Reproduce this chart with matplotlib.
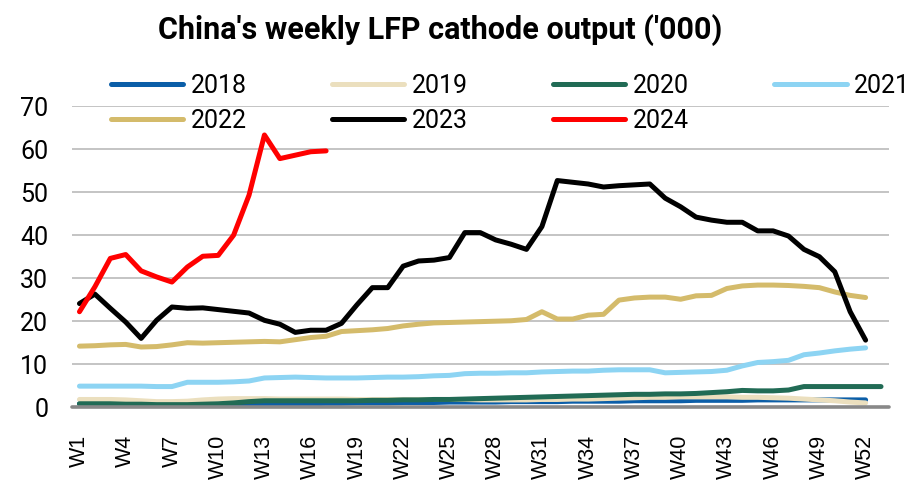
import matplotlib
matplotlib.use("Agg")
import matplotlib.pyplot as plt
import numpy as np

# weekly output, '000
years = ["2018", "2019", "2020", "2021", "2022", "2023", "2024"]
colors = ["#0b5ea8", "#ebdfbe", "#216b55", "#8dd4f3", "#d4bb6b", "#000000", "#ff0000"]

y2018 = [0.8, 0.8, 0.8, 0.8, 0.7, 0.7, 0.7, 0.6, 0.6, 0.6, 0.6, 0.6, 0.7, 0.7, 0.8, 0.8, 0.9, 0.9,
         1.0, 1.0, 1.0, 1.1, 1.1, 1.1, 1.2, 1.2, 1.2, 1.2, 1.3, 1.3, 1.3, 1.3, 1.4, 1.4, 1.4, 1.4,
         1.5, 1.5, 1.5, 1.5, 1.6, 1.6, 1.6, 1.6, 1.7, 1.7, 1.7, 1.7, 1.7, 1.7, 1.7, 1.7]
y2019 = [1.8, 1.8, 1.8, 1.7, 1.5, 1.3, 1.3, 1.4, 1.7, 1.9, 2.0, 2.0, 2.0, 1.9, 1.9, 1.9, 1.9, 1.9,
         1.8, 1.8, 1.8, 1.8, 1.8, 1.8, 1.8, 1.8, 1.7, 1.7, 1.7, 1.7, 1.8, 1.8, 1.9, 1.9, 2.0, 2.1,
         2.2, 2.3, 2.3, 2.4, 2.4, 2.4, 2.4, 2.3, 2.3, 2.2, 2.1, 1.9, 1.7, 1.5, 1.2, 1.0]
y2020 = [0.8, 0.8, 0.8, 0.7, 0.7, 0.6, 0.6, 0.6, 0.7, 0.8, 1.0, 1.3, 1.5, 1.5, 1.5, 1.5, 1.5, 1.5,
         1.5, 1.6, 1.6, 1.7, 1.7, 1.8, 1.8, 1.9, 2.0, 2.1, 2.2, 2.3, 2.4, 2.5, 2.6, 2.7, 2.8, 2.9,
         3.0, 3.0, 3.1, 3.1, 3.2, 3.4, 3.6, 3.9, 3.8, 3.8, 4.0, 4.8, 4.8, 4.8, 4.8, 4.8, 4.8]
y2021 = [4.9, 4.9, 4.9, 4.9, 4.9, 4.8, 4.8, 5.8, 5.8, 5.8, 5.9, 6.1, 6.8, 6.9, 7.0, 6.9, 6.8, 6.8,
         6.8, 6.9, 7.0, 7.0, 7.1, 7.3, 7.4, 7.8, 7.9, 7.9, 8.0, 8.0, 8.2, 8.3, 8.4, 8.4, 8.6, 8.7,
         8.7, 8.7, 8.0, 8.1, 8.2, 8.3, 8.6, 9.6, 10.4, 10.6, 10.9, 12.2, 12.6, 13.1, 13.5, 13.8]
y2022 = [14.2, 14.3, 14.5, 14.6, 14.0, 14.1, 14.5, 15.0, 14.9, 15.0, 15.1, 15.2, 15.3, 15.2, 15.7,
         16.2, 16.5, 17.6, 17.8, 18.0, 18.3, 18.9, 19.3, 19.6, 19.7, 19.8, 19.9, 20.0, 20.1, 20.4,
         22.2, 20.5, 20.5, 21.4, 21.6, 24.9, 25.4, 25.6, 25.6, 25.1, 25.9, 26.0, 27.6, 28.2, 28.4,
         28.4, 28.3, 28.1, 27.8, 26.8, 26.0, 25.5]
y2023 = [24.1, 26.3, 23.0, 19.8, 16.0, 20.2, 23.3, 23.0, 23.1, 22.7, 22.3, 21.9, 20.2, 19.3, 17.4,
         17.9, 17.9, 19.5, 23.8, 27.8, 27.8, 32.8, 34.0, 34.2, 34.8, 40.6, 40.6, 38.9, 37.9, 36.7,
         42.0, 52.7, 52.3, 51.9, 51.2, 51.5, 51.7, 51.9, 48.6, 46.6, 44.2, 43.5, 43.0, 43.0, 41.0,
         41.0, 39.8, 36.7, 35.0, 31.5, 22.2, 15.6]
y2024 = [22.2, 28.0, 34.6, 35.5, 31.7, 30.3, 29.1, 32.6, 35.1, 35.3, 40.0, 49.3, 63.3, 57.8, 58.6,
         59.4, 59.6]

weekTicks = list(range(1, 53, 3))
weekLabels = ["W%d" % w for w in weekTicks]
yTicks = [0, 10, 20, 30, 40, 50, 60, 70]

fontList = ["Roboto", "DejaVu Sans"]

fig = plt.figure(figsize=(9.2, 4.96), dpi=100)
ax = fig.add_axes([0.078, 0.179, 0.888, 0.607])

series = [y2018, y2019, y2020, y2021, y2022, y2023, y2024]
lines = {}
for label, vals, col in zip(years, series, colors):
    weeks = np.arange(1, len(vals) + 1)
    lines[label], = ax.plot(weeks, vals, color=col, lw=3.6, label=label,
                            solid_capstyle="round", solid_joinstyle="round")

ax.set_xlim(0.5, 53.5)
ax.set_ylim(0, 70)
ax.set_yticks(yTicks)
ax.set_yticklabels([str(v) for v in yTicks], family=fontList, fontsize=18)
ax.set_xticks(weekTicks)
ax.set_xticklabels(weekLabels, rotation=90, family="Liberation Sans", fontsize=15.5, va="top")
ax.tick_params(axis="both", length=0)
ax.tick_params(axis="y", pad=17)
ax.tick_params(axis="x", pad=20)

ax.grid(axis="y", color="#c4c4c4", lw=1.4)
ax.set_axisbelow(True)
for s in ["left", "right", "top"]:
    ax.spines[s].set_visible(False)
ax.spines["bottom"].set_color("#888888")
ax.spines["bottom"].set_linewidth(2.6)
ax.spines["bottom"].set_capstyle("round")

# legend fills by column, so order entries to read row by row
legOrder = ["2018", "2022", "2019", "2023", "2020", "2024", "2021"]
ax.legend([lines[k] for k in legOrder], legOrder, ncol=4, loc="center",
          bbox_to_anchor=(0.537, 1.01), frameon=False,
          prop={"family": fontList, "size": 18}, handlelength=2.9, handletextpad=0.3,
          columnspacing=3.4, labelspacing=0.45, borderaxespad=0)

fig.text(0.478, 0.94, "China's weekly LFP cathode output ('000)", ha="center", va="center",
         family=fontList, fontsize=22, fontweight="bold")

fig.savefig("out.png", dpi=100)
